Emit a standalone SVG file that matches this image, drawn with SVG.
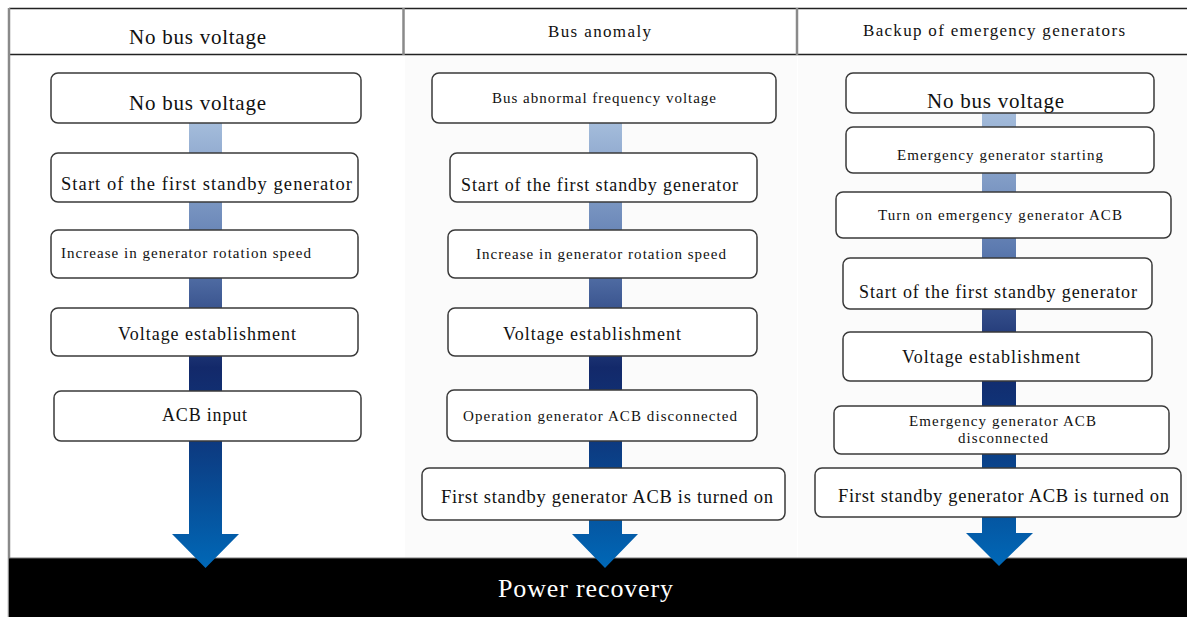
<svg xmlns="http://www.w3.org/2000/svg" width="1187" height="617" viewBox="0 0 1187 617">
<style>
  .box { fill: #ffffff; stroke: #3a3a3a; stroke-width: 1.5; }
  .t { font-family: "Liberation Serif", "Times New Roman", serif; fill: #111; text-anchor: start; }
  .grid { stroke: #222; stroke-width: 1.5; fill: none; }
  .vgrid { stroke: #8a8a8a; stroke-width: 2.5; fill: none; }
</style>
<defs>
  <linearGradient id="flow" x1="0" y1="0" x2="0" y2="1">
    <stop offset="0" stop-color="#a4bcdb"/>
    <stop offset="0.3" stop-color="#5d7bb0"/>
    <stop offset="0.55" stop-color="#13296a"/>
    <stop offset="0.72" stop-color="#0d3a80"/>
    <stop offset="1" stop-color="#0068b7"/>
  </linearGradient>
</defs>
<rect x="0" y="0" width="1187" height="617" fill="#ffffff"/>
<g id="frame">
  <rect x="405" y="55" width="392" height="503" fill="#fbfbfb"/>
  <rect x="798" y="55" width="389" height="503" fill="#fbfbfb"/>
  <line class="grid" x1="9" y1="8.5" x2="1187" y2="8.5"/>
  <line class="grid" x1="9" y1="54.5" x2="1187" y2="54.5"/>
  <line class="vgrid" x1="9" y1="8" x2="9" y2="617"/>
  <line class="vgrid" x1="403.5" y1="8" x2="403.5" y2="55"/>
  <line class="vgrid" x1="797" y1="8" x2="797" y2="55"/>
  <text class="t" x="129" y="44" font-size="21" textLength="137" lengthAdjust="spacing">No bus voltage</text>
  <text class="t" x="548" y="37" font-size="17" textLength="103" lengthAdjust="spacing">Bus anomaly</text>
  <text class="t" x="863" y="36" font-size="17" textLength="262" lengthAdjust="spacing">Backup of emergency generators</text>
</g>
<g id="recovery-bar">
  <rect x="9" y="558" width="1178" height="59" fill="#000000"/>
  <line x1="9" y1="558" x2="1187" y2="558" stroke="#777" stroke-width="1"/>
</g>
<g id="connectors">
  <polygon fill="url(#flow)" points="189,123 222,123 222,534 239,534 205.5,568 172,534 189,534"/>
  <polygon fill="url(#flow)" points="589,123 622,123 622,534 638,534 605,568 572,534 589,534"/>
  <polygon fill="url(#flow)" points="982,112 1016,112 1016,533 1033,533 999,566 966,533 982,533"/>
</g>
<g id="c1-n1"><rect class="box" x="51" y="73" width="310" height="50" rx="7"/><text class="t" x="129" y="110" font-size="21" textLength="137" lengthAdjust="spacing">No bus voltage</text></g>
<g id="c1-n2"><rect class="box" x="51" y="153" width="307" height="49" rx="7"/><text class="t" x="61" y="190" font-size="18.5" textLength="291" lengthAdjust="spacing">Start of the first standby generator</text></g>
<g id="c1-n3"><rect class="box" x="51" y="230" width="307" height="48" rx="7"/><text class="t" x="61" y="258" font-size="15" textLength="250" lengthAdjust="spacing">Increase in generator rotation speed</text></g>
<g id="c1-n4"><rect class="box" x="51" y="308" width="307" height="48" rx="7"/><text class="t" x="118" y="340" font-size="18" textLength="178" lengthAdjust="spacing">Voltage establishment</text></g>
<g id="c1-n5"><rect class="box" x="54" y="391" width="307" height="50" rx="7"/><text class="t" x="162" y="421" font-size="18" textLength="85" lengthAdjust="spacing">ACB input</text></g>

<g id="c2-n1"><rect class="box" x="432" y="73" width="344" height="50" rx="7"/><text class="t" x="492" y="103" font-size="15" textLength="224" lengthAdjust="spacing">Bus abnormal frequency voltage</text></g>
<g id="c2-n2"><rect class="box" x="450" y="153" width="307" height="49" rx="7"/><text class="t" x="461" y="191" font-size="18" textLength="277" lengthAdjust="spacing">Start of the first standby generator</text></g>
<g id="c2-n3"><rect class="box" x="448" y="230" width="309" height="48" rx="7"/><text class="t" x="476" y="259" font-size="15" textLength="250" lengthAdjust="spacing">Increase in generator rotation speed</text></g>
<g id="c2-n4"><rect class="box" x="448" y="308" width="309" height="48" rx="7"/><text class="t" x="503" y="340" font-size="18" textLength="178" lengthAdjust="spacing">Voltage establishment</text></g>
<g id="c2-n5"><rect class="box" x="447" y="390" width="310" height="51" rx="7"/><text class="t" x="463" y="421" font-size="15" textLength="274" lengthAdjust="spacing">Operation generator ACB disconnected</text></g>
<g id="c2-n6"><rect class="box" x="422" y="468" width="363" height="52" rx="7"/><text class="t" x="441" y="503" font-size="18.5" textLength="332" lengthAdjust="spacing">First standby generator ACB is turned on</text></g>

<g id="c3-n1"><rect class="box" x="846" y="73" width="308" height="40" rx="7"/><text class="t" x="927" y="108" font-size="21" textLength="137" lengthAdjust="spacing">No bus voltage</text></g>
<g id="c3-n2"><rect class="box" x="846" y="127" width="308" height="46" rx="7"/><text class="t" x="897" y="160" font-size="15" textLength="206" lengthAdjust="spacing">Emergency generator starting</text></g>
<g id="c3-n3"><rect class="box" x="836" y="192" width="335" height="46" rx="7"/><text class="t" x="878" y="220" font-size="15" textLength="244" lengthAdjust="spacing">Turn on emergency generator ACB</text></g>
<g id="c3-n4"><rect class="box" x="843" y="258" width="309" height="51" rx="7"/><text class="t" x="859" y="298" font-size="18" textLength="278" lengthAdjust="spacing">Start of the first standby generator</text></g>
<g id="c3-n5"><rect class="box" x="843" y="332" width="309" height="49" rx="7"/><text class="t" x="902" y="363" font-size="18" textLength="178" lengthAdjust="spacing">Voltage establishment</text></g>
<g id="c3-n6"><rect class="box" x="834" y="406" width="335" height="48" rx="7"/><text class="t" x="909" y="426" font-size="15" textLength="187" lengthAdjust="spacing">Emergency generator ACB</text><text class="t" x="958" y="443" font-size="15" textLength="90" lengthAdjust="spacing">disconnected</text></g>
<g id="c3-n7"><rect class="box" x="815" y="468" width="366" height="49" rx="7"/><text class="t" x="838" y="502" font-size="18.5" textLength="331" lengthAdjust="spacing">First standby generator ACB is turned on</text></g>

<text x="498" y="597" font-family="Liberation Serif, Times New Roman, serif" font-size="26" fill="#ffffff" textLength="175" lengthAdjust="spacing">Power recovery</text>
</svg>
